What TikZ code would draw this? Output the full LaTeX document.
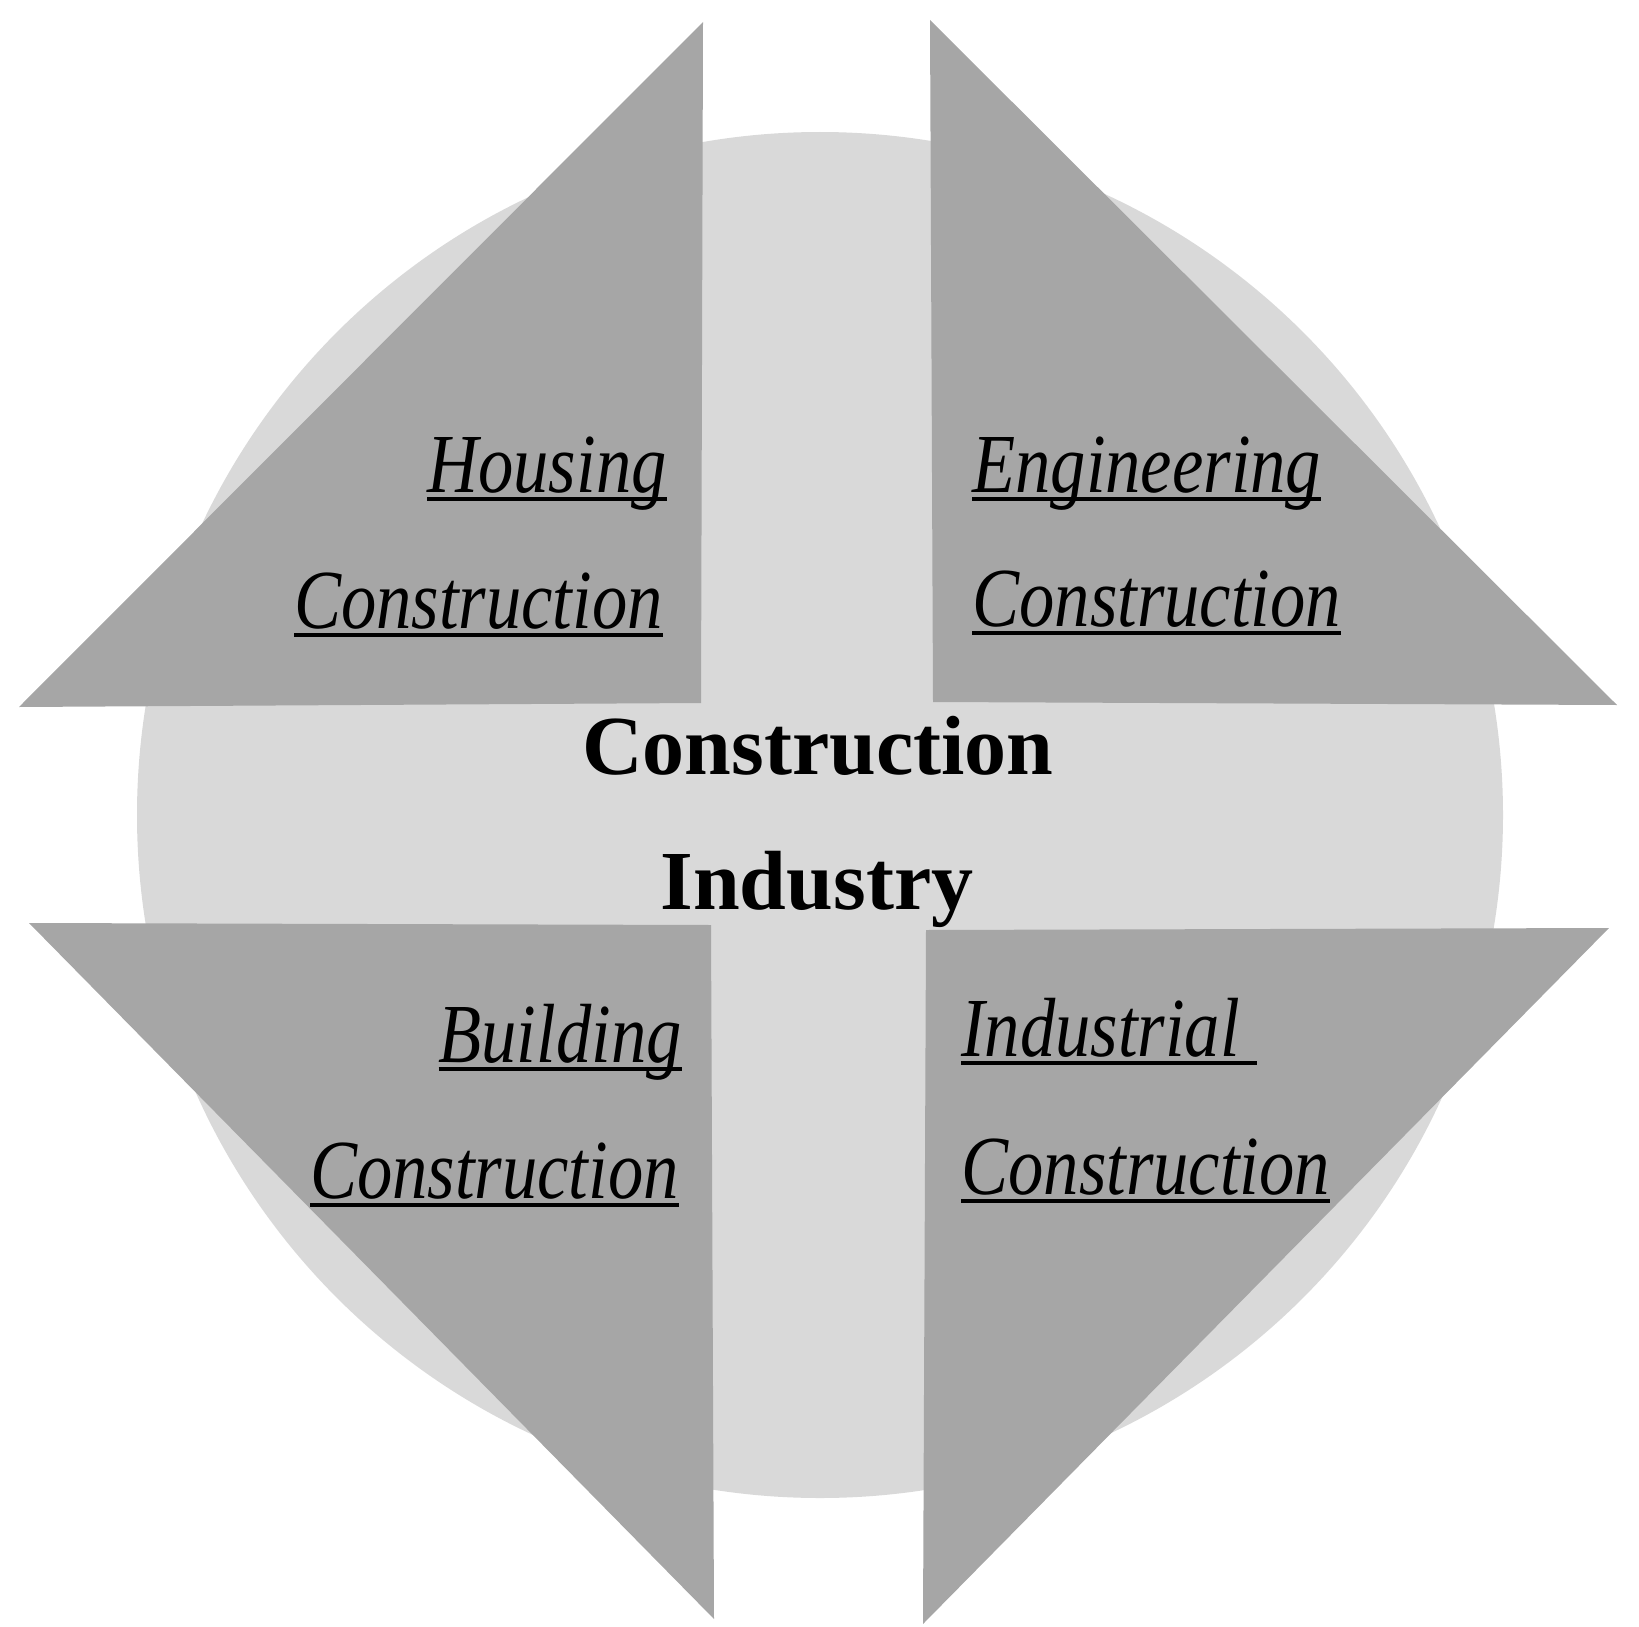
\documentclass[tikz,border=0pt]{standalone}
\usepackage{fontspec}
\usepackage{tikz}
\setmainfont{Liberation Serif}
\newfontfamily\labelfont[FakeStretch=0.84]{Liberation Serif}
\definecolor{discgray}{HTML}{D9D9D9}
\definecolor{wedgegray}{HTML}{A6A6A6}
\newcommand{\ulword}[1]{\setbox0\hbox{#1}\rlap{\rule[-4.5pt]{\wd0}{2pt}}\box0}

\begin{document}
\begin{tikzpicture}[x=0.5pt, y=-0.5pt]
    \tikzset{wedge/.style={fill=wedgegray},
      lbl/.style={inner sep=0pt, font=\labelfont\itshape\fontsize{42}{50}\selectfont},
      ttl/.style={inner sep=0pt, anchor=base, font=\bfseries\fontsize{42}{50}\selectfont}}
    \useasboundingbox (0, 0) rectangle (1639, 1627);

    \fill[discgray] (820, 815) circle [radius=683];

    \fill[wedge] (703, 22) -- (19, 707) -- (701, 703) -- cycle;
    \fill[wedge] (930, 20) -- (933, 702) -- (1617, 705) -- cycle;
    \fill[wedge] (29, 923) -- (711, 925) -- (714, 1619) -- cycle;
    \fill[wedge] (926, 930) -- (1609, 928) -- (923, 1624) -- cycle;

    \node[lbl, anchor=base east] at (667, 492) (hous) {\ulword{Housing}};
    \node[lbl, anchor=base east] at (663, 628) (housc) {\ulword{Construction}};
    \node[lbl, anchor=base west] at (972, 492) (eng) {\ulword{Engineering}};
    \node[lbl, anchor=base west] at (972, 626) (engc) {\ulword{Construction}};
    \node[lbl, anchor=base east] at (682, 1062) (bld) {\ulword{Building}};
    \node[lbl, anchor=base east] at (679, 1198) (bldc) {\ulword{Construction}};
    \node[lbl, anchor=base west] at (961, 1056) (ind) {\ulword{Industrial\ }};
    \node[lbl, anchor=base west] at (961, 1194) (indc) {\ulword{Construction}};

    \node[ttl] at (818, 774) (ctitle) {Construction};
    \node[ttl] at (817, 909) (ititle) {Industry};
\end{tikzpicture}
\end{document}
